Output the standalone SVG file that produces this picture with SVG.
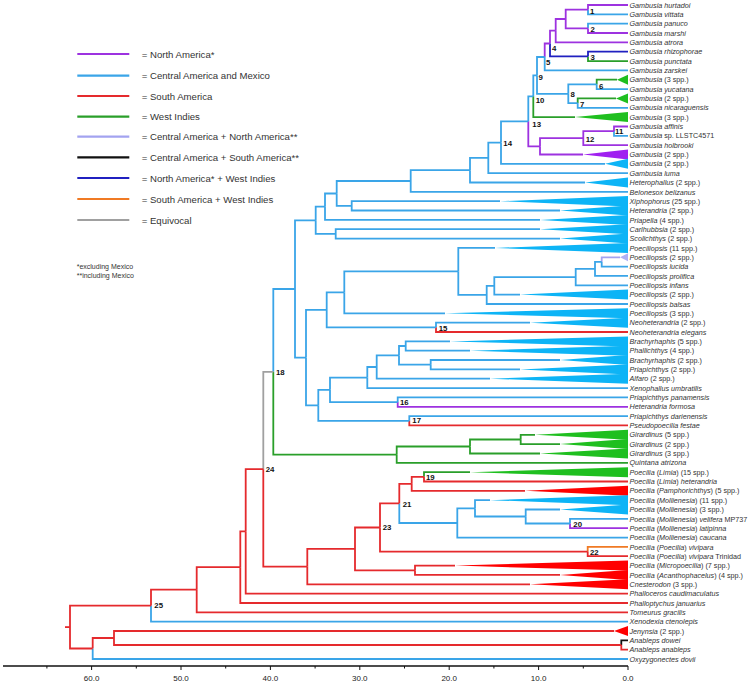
<svg xmlns="http://www.w3.org/2000/svg" width="750" height="684" viewBox="0 0 750 684">
<style>
.e{fill:none;stroke-width:1.8;stroke-linejoin:miter;stroke-linecap:butt}
.P{stroke:#9d32e0}.B{stroke:#3aa5e8}.R{stroke:#e52a2d}.G{stroke:#2a9f2a}.L{stroke:#a3a3f0}.K{stroke:#111}.N{stroke:#2020c0}.O{stroke:#f07a24}.Y{stroke:#a0a0a0}
.fP{fill:#a020f0}.fB{fill:#0db4f6}.fR{fill:#ff0000}.fG{fill:#1fbf1f}.fL{fill:#b0b0f5}
.t{font-family:"Liberation Sans",Arial,sans-serif;font-size:7.2px;fill:#333}
.i{font-style:italic}
.n{font-family:"Liberation Sans",Arial,sans-serif;font-size:7.8px;font-weight:bold;fill:#111}
.lg{font-family:"Liberation Sans",Arial,sans-serif;font-size:9.6px;fill:#333}
.fn{font-family:"Liberation Sans",Arial,sans-serif;font-size:7px;fill:#333}
.ax{font-family:"Liberation Sans",Arial,sans-serif;font-size:8px;fill:#222;text-anchor:middle}
.ll{stroke-width:2.2;fill:none}
</style>
<g id="connectors">
<path class="e P" d="M588 9.7V5H628"/>
<path class="e B" d="M588 9.7V14.3H628"/>
<path class="e B" d="M588 28.4V23.7H628"/>
<path class="e P" d="M588 28.4V33H628"/>
<path class="e P" d="M565.7 19V9.7H588"/>
<path class="e P" d="M565.7 19V28.4H588"/>
<path class="e P" d="M555.7 30.7V19H565.7"/>
<path class="e P" d="M555.7 30.7V42.4H628"/>
<path class="e N" d="M588 56.4V51.7H628"/>
<path class="e G" d="M588 56.4V61.1H628"/>
<path class="e P" d="M550 43.5V30.7H555.7"/>
<path class="e N" d="M550 43.5V56.4H588"/>
<path class="e P" d="M544.7 57V43.5H550"/>
<path class="e B" d="M544.7 57V70.4H628"/>
<path class="e G" d="M596.7 84.4V79.7H617"/>
<path class="e B" d="M596.7 84.4V89.1H628"/>
<path class="e G" d="M577.7 103.1V98.4H616"/>
<path class="e B" d="M577.7 103.1V107.8H628"/>
<path class="e B" d="M568.3 93.8V84.4H596.7"/>
<path class="e B" d="M568.3 93.8V103.1H577.7"/>
<path class="e B" d="M537 75.4V57H544.7"/>
<path class="e B" d="M537 75.4V93.8H568.3"/>
<path class="e B" d="M533.3 96.3V75.4H537"/>
<path class="e G" d="M533.3 96.3V117.1H575"/>
<path class="e P" d="M614 131.1V126.5H628"/>
<path class="e B" d="M614 131.1V135.8H628"/>
<path class="e P" d="M583.3 138.1V131.1H614"/>
<path class="e P" d="M583.3 138.1V145.1H628"/>
<path class="e P" d="M540 146.3V138.1H583.3"/>
<path class="e P" d="M540 146.3V154.5H583"/>
<path class="e B" d="M528.3 121.3V96.3H533.3"/>
<path class="e P" d="M528.3 121.3V146.3H540"/>
<path class="e B" d="M501 142.6V121.3H528.3"/>
<path class="e B" d="M501 142.6V163.8H605"/>
<path class="e B" d="M488.3 157.9V142.6H501"/>
<path class="e B" d="M488.3 157.9V173.2H628"/>
<path class="e B" d="M470 170.2V157.9H488.3"/>
<path class="e B" d="M470 170.2V182.5H585"/>
<path class="e B" d="M410.7 181V170.2H470"/>
<path class="e B" d="M410.7 181V191.9H628"/>
<path class="e B" d="M351.7 205.9V201.2H500"/>
<path class="e B" d="M351.7 205.9V210.5H560"/>
<path class="e B" d="M336.7 193.5V181H410.7"/>
<path class="e B" d="M336.7 193.5V205.9H351.7"/>
<path class="e B" d="M325 206.7V193.5H336.7"/>
<path class="e B" d="M325 206.7V219.9H540"/>
<path class="e B" d="M335.7 233.9V229.2H540"/>
<path class="e B" d="M335.7 233.9V238.6H560"/>
<path class="e B" d="M315.7 220.3V206.7H325"/>
<path class="e B" d="M315.7 220.3V233.9H335.7"/>
<path class="e L" d="M601.7 261.9V257.3H620"/>
<path class="e B" d="M601.7 261.9V266.6H628"/>
<path class="e B" d="M595 268.9V261.9H601.7"/>
<path class="e B" d="M595 268.9V275.9H628"/>
<path class="e B" d="M575.7 277.1V268.9H595"/>
<path class="e B" d="M575.7 277.1V285.3H628"/>
<path class="e B" d="M494.3 285.9V277.1H575.7"/>
<path class="e B" d="M494.3 285.9V294.6H520"/>
<path class="e B" d="M486.7 294.9V285.9H494.3"/>
<path class="e B" d="M486.7 294.9V304H628"/>
<path class="e B" d="M458.3 271.4V247.9H495"/>
<path class="e B" d="M458.3 271.4V294.9H486.7"/>
<path class="e B" d="M344.3 292.4V271.4H458.3"/>
<path class="e B" d="M344.3 292.4V313.3H445"/>
<path class="e B" d="M436 327.3V322.7H530"/>
<path class="e R" d="M436 327.3V332H628"/>
<path class="e B" d="M326.7 309.9V292.4H344.3"/>
<path class="e B" d="M326.7 309.9V327.3H436"/>
<path class="e B" d="M405.7 346V341.4H450"/>
<path class="e B" d="M405.7 346V350.7H470"/>
<path class="e B" d="M430.7 364.7V360H560"/>
<path class="e B" d="M430.7 364.7V369.4H520"/>
<path class="e B" d="M399 355.4V346H405.7"/>
<path class="e B" d="M399 355.4V364.7H430.7"/>
<path class="e B" d="M376.7 367V355.4H399"/>
<path class="e B" d="M376.7 367V378.7H490"/>
<path class="e B" d="M367.3 377.6V367H376.7"/>
<path class="e B" d="M367.3 377.6V388.1H628"/>
<path class="e B" d="M397.7 402.1V397.4H628"/>
<path class="e P" d="M397.7 402.1V406.8H628"/>
<path class="e B" d="M330 389.8V377.6H367.3"/>
<path class="e B" d="M330 389.8V402.1H397.7"/>
<path class="e B" d="M409.3 420.8V416.1H628"/>
<path class="e R" d="M409.3 420.8V425.4H628"/>
<path class="e B" d="M318.3 405.3V389.8H330"/>
<path class="e B" d="M318.3 405.3V420.8H409.3"/>
<path class="e B" d="M306 357.6V309.9H326.7"/>
<path class="e B" d="M306 357.6V405.3H318.3"/>
<path class="e B" d="M295 289V220.3H315.7"/>
<path class="e B" d="M295 289V357.6H306"/>
<path class="e G" d="M520.7 439.5V434.8H535"/>
<path class="e G" d="M520.7 439.5V444.1H560"/>
<path class="e G" d="M470 446.5V439.5H520.7"/>
<path class="e G" d="M470 446.5V453.5H540"/>
<path class="e G" d="M396.7 454.6V446.5H470"/>
<path class="e G" d="M396.7 454.6V462.8H628"/>
<path class="e B" d="M273.3 371.8V289H295"/>
<path class="e G" d="M273.3 371.8V454.6H396.7"/>
<path class="e G" d="M424 476.8V472.2H470"/>
<path class="e R" d="M424 476.8V481.5H628"/>
<path class="e R" d="M411.7 483.8V476.8H424"/>
<path class="e R" d="M411.7 483.8V490.8H525"/>
<path class="e B" d="M570 523.5V518.9H628"/>
<path class="e P" d="M570 523.5V528.2H628"/>
<path class="e B" d="M525.7 516.5V509.5H560"/>
<path class="e B" d="M525.7 516.5V523.5H570"/>
<path class="e B" d="M475 508.4V500.2H490"/>
<path class="e B" d="M475 508.4V516.5H525.7"/>
<path class="e B" d="M457.3 523V508.4H475"/>
<path class="e B" d="M457.3 523V537.6H628"/>
<path class="e R" d="M399.3 503.4V483.8H411.7"/>
<path class="e B" d="M399.3 503.4V523H457.3"/>
<path class="e O" d="M587.7 551.6V546.9H628"/>
<path class="e R" d="M587.7 551.6V556.2H628"/>
<path class="e R" d="M380 527.5V503.4H399.3"/>
<path class="e R" d="M380 527.5V551.6H587.7"/>
<path class="e R" d="M415 570.3V565.6H455"/>
<path class="e R" d="M415 570.3V574.9H560"/>
<path class="e R" d="M355 548.9V527.5H380"/>
<path class="e R" d="M355 548.9V570.3H415"/>
<path class="e R" d="M307.3 566.6V548.9H355"/>
<path class="e R" d="M307.3 566.6V584.3H530"/>
<path class="e Y" d="M263.3 469.2V371.8H273.3"/>
<path class="e R" d="M263.3 469.2V566.6H307.3"/>
<path class="e R" d="M245.7 531.4V469.2H263.3"/>
<path class="e R" d="M245.7 531.4V593.6H628"/>
<path class="e R" d="M240.3 567.2V531.4H245.7"/>
<path class="e R" d="M240.3 567.2V603H628"/>
<path class="e R" d="M196.7 589.7V567.2H240.3"/>
<path class="e R" d="M196.7 589.7V612.3H628"/>
<path class="e R" d="M151 605.7V589.7H196.7"/>
<path class="e B" d="M151 605.7V621.6H628"/>
<path class="e K" d="M621.3 645V640.3H628"/>
<path class="e R" d="M621.3 645V649.7H628"/>
<path class="e R" d="M114 638V631H614"/>
<path class="e R" d="M114 638V645H621.3"/>
<path class="e R" d="M92.7 648.5V638H114"/>
<path class="e B" d="M92.7 648.5V659H628"/>
<path class="e R" d="M70 627.1V605.7H151"/>
<path class="e R" d="M70 627.1V648.5H92.7"/>
<path class="e R" d="M65 627.1H70"/>
</g>
<g id="leaf-0"><text class="t i" x="629.5" y="7.6">Gambusia hurtadoi</text></g>
<g id="leaf-1"><text class="t i" x="629.5" y="16.9">Gambusia vittata</text></g>
<g id="leaf-2"><text class="t i" x="629.5" y="26.3">Gambusia panuco</text></g>
<g id="leaf-3"><text class="t i" x="629.5" y="35.6">Gambusia marshi</text></g>
<g id="leaf-4"><text class="t i" x="629.5" y="45">Gambusia atrora</text></g>
<g id="leaf-5"><text class="t i" x="629.5" y="54.3">Gambusia rhizophorae</text></g>
<g id="leaf-6"><text class="t i" x="629.5" y="63.7">Gambusia punctata</text></g>
<g id="leaf-7"><text class="t i" x="629.5" y="73">Gambusia zarskei</text></g>
<g id="leaf-8"><polygon class="fG" points="617,79.7 628,74.7 628,84.7"/><text class="t" x="629.5" y="82.3"><tspan class="i">Gambusia</tspan> (3 spp.)</text></g>
<g id="leaf-9"><text class="t i" x="629.5" y="91.7">Gambusia yucatana</text></g>
<g id="leaf-10"><polygon class="fG" points="616,98.4 628,93.4 628,103.4"/><text class="t" x="629.5" y="101"><tspan class="i">Gambusia</tspan> (2 spp.)</text></g>
<g id="leaf-11"><text class="t i" x="629.5" y="110.4">Gambusia nicaraguensis</text></g>
<g id="leaf-12"><polygon class="fG" points="575,117.1 628,112.1 628,122.1"/><text class="t" x="629.5" y="119.7"><tspan class="i">Gambusia</tspan> (3 spp.)</text></g>
<g id="leaf-13"><text class="t i" x="629.5" y="129.1">Gambusia affinis</text></g>
<g id="leaf-14"><text class="t" x="629.5" y="138.4"><tspan class="i">Gambusia</tspan> sp. LLSTC4571</text></g>
<g id="leaf-15"><text class="t i" x="629.5" y="147.8">Gambusia holbrooki</text></g>
<g id="leaf-16"><polygon class="fP" points="583,154.5 628,149.5 628,159.5"/><text class="t" x="629.5" y="157.1"><tspan class="i">Gambusia</tspan> (2 spp.)</text></g>
<g id="leaf-17"><polygon class="fB" points="605,163.8 628,158.8 628,168.8"/><text class="t" x="629.5" y="166.4"><tspan class="i">Gambusia</tspan> (2 spp.)</text></g>
<g id="leaf-18"><text class="t i" x="629.5" y="175.8">Gambusia luma</text></g>
<g id="leaf-19"><polygon class="fB" points="585,182.5 628,177.5 628,187.5"/><text class="t" x="629.5" y="185.1"><tspan class="i">Heterophallus</tspan> (2 spp.)</text></g>
<g id="leaf-20"><text class="t i" x="629.5" y="194.5">Belonesox belizanus</text></g>
<g id="leaf-21"><polygon class="fB" points="500,201.2 628,196 628,206.4"/><text class="t" x="629.5" y="203.8"><tspan class="i">Xiphophorus</tspan> (25 spp.)</text></g>
<g id="leaf-22"><polygon class="fB" points="560,210.5 628,205.5 628,215.5"/><text class="t" x="629.5" y="213.1"><tspan class="i">Heterandria</tspan> (2 spp.)</text></g>
<g id="leaf-23"><polygon class="fB" points="540,219.9 628,214.9 628,224.9"/><text class="t" x="629.5" y="222.5"><tspan class="i">Priapella</tspan> (4 spp.)</text></g>
<g id="leaf-24"><polygon class="fB" points="540,229.2 628,224.2 628,234.2"/><text class="t" x="629.5" y="231.8"><tspan class="i">Carlhubbsia</tspan> (2 spp.)</text></g>
<g id="leaf-25"><polygon class="fB" points="560,238.6 628,233.6 628,243.6"/><text class="t" x="629.5" y="241.2"><tspan class="i">Scolichthys</tspan> (2 spp.)</text></g>
<g id="leaf-26"><polygon class="fB" points="495,247.9 628,242.9 628,252.9"/><text class="t" x="629.5" y="250.5"><tspan class="i">Poeciliopsis</tspan> (11 spp.)</text></g>
<g id="leaf-27"><polygon class="fL" points="620,257.3 628,253.3 628,261.3"/><text class="t" x="629.5" y="259.9"><tspan class="i">Poeciliopsis</tspan> (2 spp.)</text></g>
<g id="leaf-28"><text class="t i" x="629.5" y="269.2">Poeciliopsis lucida</text></g>
<g id="leaf-29"><text class="t i" x="629.5" y="278.5">Poeciliopsis prolifica</text></g>
<g id="leaf-30"><text class="t i" x="629.5" y="287.9">Poeciliopsis infans</text></g>
<g id="leaf-31"><polygon class="fB" points="520,294.6 628,289.6 628,299.6"/><text class="t" x="629.5" y="297.2"><tspan class="i">Poeciliopsis</tspan> (2 spp.)</text></g>
<g id="leaf-32"><text class="t i" x="629.5" y="306.6">Poeciliopsis balsas</text></g>
<g id="leaf-33"><polygon class="fB" points="445,313.3 628,308.3 628,318.3"/><text class="t" x="629.5" y="315.9"><tspan class="i">Poeciliopsis</tspan> (3 spp.)</text></g>
<g id="leaf-34"><polygon class="fB" points="530,322.7 628,317.7 628,327.7"/><text class="t" x="629.5" y="325.3"><tspan class="i">Neoheterandria</tspan> (2 spp.)</text></g>
<g id="leaf-35"><text class="t i" x="629.5" y="334.6">Neoheterandria elegans</text></g>
<g id="leaf-36"><polygon class="fB" points="450,341.4 628,336.4 628,346.4"/><text class="t" x="629.5" y="344"><tspan class="i">Brachyrhaphis</tspan> (5 spp.)</text></g>
<g id="leaf-37"><polygon class="fB" points="470,350.7 628,345.7 628,355.7"/><text class="t" x="629.5" y="353.3"><tspan class="i">Phallichthys</tspan> (4 spp.)</text></g>
<g id="leaf-38"><polygon class="fB" points="560,360 628,355 628,365"/><text class="t" x="629.5" y="362.6"><tspan class="i">Brachyrhaphis</tspan> (2 spp.)</text></g>
<g id="leaf-39"><polygon class="fB" points="520,369.4 628,364.4 628,374.4"/><text class="t" x="629.5" y="372"><tspan class="i">Priapichthys</tspan> (2 spp.)</text></g>
<g id="leaf-40"><polygon class="fB" points="490,378.7 628,373.7 628,383.7"/><text class="t" x="629.5" y="381.3"><tspan class="i">Alfaro</tspan> (2 spp.)</text></g>
<g id="leaf-41"><text class="t i" x="629.5" y="390.7">Xenophallus umbratilis</text></g>
<g id="leaf-42"><text class="t i" x="629.5" y="400">Priapichthys panamensis</text></g>
<g id="leaf-43"><text class="t i" x="629.5" y="409.4">Heterandria formosa</text></g>
<g id="leaf-44"><text class="t i" x="629.5" y="418.7">Priapichthys darienensis</text></g>
<g id="leaf-45"><text class="t i" x="629.5" y="428">Pseudopoecilia festae</text></g>
<g id="leaf-46"><polygon class="fG" points="535,434.8 628,429.8 628,439.8"/><text class="t" x="629.5" y="437.4"><tspan class="i">Girardinus</tspan> (5 spp.)</text></g>
<g id="leaf-47"><polygon class="fG" points="560,444.1 628,439.1 628,449.1"/><text class="t" x="629.5" y="446.7"><tspan class="i">Girardinus</tspan> (2 spp.)</text></g>
<g id="leaf-48"><polygon class="fG" points="540,453.5 628,448.5 628,458.5"/><text class="t" x="629.5" y="456.1"><tspan class="i">Girardinus</tspan> (3 spp.)</text></g>
<g id="leaf-49"><text class="t i" x="629.5" y="465.4">Quintana atrizona</text></g>
<g id="leaf-50"><polygon class="fG" points="470,472.2 628,467.2 628,477.2"/><text class="t" x="629.5" y="474.8"><tspan class="i">Poecilia</tspan> (<tspan class="i">Limia</tspan>) (15 spp.)</text></g>
<g id="leaf-51"><text class="t" x="629.5" y="484.1"><tspan class="i">Poecilia</tspan> (<tspan class="i">Limia</tspan>) <tspan class="i">heterandria</tspan></text></g>
<g id="leaf-52"><polygon class="fR" points="525,490.8 628,485.8 628,495.8"/><text class="t" x="629.5" y="493.4"><tspan class="i">Poecilia</tspan> (<tspan class="i">Pamphorichthys</tspan>) (5 spp.)</text></g>
<g id="leaf-53"><polygon class="fB" points="490,500.2 628,495.2 628,505.2"/><text class="t" x="629.5" y="502.8"><tspan class="i">Poecilia</tspan> (<tspan class="i">Mollienesia</tspan>) (11 spp.)</text></g>
<g id="leaf-54"><polygon class="fB" points="560,509.5 628,504.5 628,514.5"/><text class="t" x="629.5" y="512.1"><tspan class="i">Poecilia</tspan> (<tspan class="i">Mollienesia</tspan>) (3 spp.)</text></g>
<g id="leaf-55"><text class="t" x="629.5" y="521.5"><tspan class="i">Poecilia</tspan> (<tspan class="i">Mollienesia</tspan>) <tspan class="i">velifera</tspan> MP737</text></g>
<g id="leaf-56"><text class="t" x="629.5" y="530.8"><tspan class="i">Poecilia</tspan> (<tspan class="i">Mollienesia</tspan>) <tspan class="i">latipinna</tspan></text></g>
<g id="leaf-57"><text class="t" x="629.5" y="540.2"><tspan class="i">Poecilia</tspan> (<tspan class="i">Mollienesia</tspan>) <tspan class="i">caucana</tspan></text></g>
<g id="leaf-58"><text class="t" x="629.5" y="549.5"><tspan class="i">Poecilia</tspan> (<tspan class="i">Poecilia</tspan>) <tspan class="i">vivipara</tspan></text></g>
<g id="leaf-59"><text class="t" x="629.5" y="558.8"><tspan class="i">Poecilia</tspan> (<tspan class="i">Poecilia</tspan>) <tspan class="i">vivipara</tspan> Trinidad</text></g>
<g id="leaf-60"><polygon class="fR" points="455,565.6 628,560.6 628,570.6"/><text class="t" x="629.5" y="568.2"><tspan class="i">Poecilia</tspan> (<tspan class="i">Micropoecilia</tspan>) (7 spp.)</text></g>
<g id="leaf-61"><polygon class="fR" points="560,574.9 628,569.9 628,579.9"/><text class="t" x="629.5" y="577.5"><tspan class="i">Poecilia</tspan> (<tspan class="i">Acanthophacelus</tspan>) (4 spp.)</text></g>
<g id="leaf-62"><polygon class="fR" points="530,584.3 628,579.3 628,589.3"/><text class="t" x="629.5" y="586.9"><tspan class="i">Cnesterodon</tspan> (3 spp.)</text></g>
<g id="leaf-63"><text class="t i" x="629.5" y="596.2">Phalloceros caudimaculatus</text></g>
<g id="leaf-64"><text class="t i" x="629.5" y="605.6">Phalloptychus januarius</text></g>
<g id="leaf-65"><text class="t i" x="629.5" y="614.9">Tomeurus gracilis</text></g>
<g id="leaf-66"><text class="t i" x="629.5" y="624.2">Xenodexia ctenolepis</text></g>
<g id="leaf-67"><polygon class="fR" points="614,631 628,626 628,636"/><text class="t" x="629.5" y="633.6"><tspan class="i">Jenynsia</tspan> (2 spp.)</text></g>
<g id="leaf-68"><text class="t i" x="629.5" y="642.9">Anableps dowei</text></g>
<g id="leaf-69"><text class="t i" x="629.5" y="652.3">Anableps anableps</text></g>
<g id="leaf-70"><text class="t i" x="629.5" y="661.6">Oxyzygonectes dovii</text></g>
<g id="node-labels">
<text class="n" x="590" y="13.8">1</text>
<text class="n" x="590.5" y="32.2">2</text>
<text class="n" x="590.5" y="60.1">3</text>
<text class="n" x="552" y="50.5">4</text>
<text class="n" x="546" y="64.5">5</text>
<text class="n" x="599" y="88.5">6</text>
<text class="n" x="580" y="106.8">7</text>
<text class="n" x="570.5" y="96.8">8</text>
<text class="n" x="538.5" y="79.8">9</text>
<text class="n" x="535.7" y="102.8">10</text>
<text class="n" x="615" y="134.4">11</text>
<text class="n" x="585.7" y="142">12</text>
<text class="n" x="532.3" y="126.8">13</text>
<text class="n" x="503.3" y="145.5">14</text>
<text class="n" x="438.7" y="331">15</text>
<text class="n" x="400" y="405">16</text>
<text class="n" x="412.3" y="423">17</text>
<text class="n" x="276" y="374.5">18</text>
<text class="n" x="426" y="480">19</text>
<text class="n" x="573.3" y="526.7">20</text>
<text class="n" x="402.7" y="506.8">21</text>
<text class="n" x="590" y="554.5">22</text>
<text class="n" x="382.7" y="530">23</text>
<text class="n" x="265.7" y="472">24</text>
<text class="n" x="154.3" y="608">25</text>
</g>
<g id="legend">
<path class="ll P" d="M77.3 54H129.3"/>
<path class="ll B" d="M77.3 75.7H129.3"/>
<path class="ll R" d="M77.3 96H129.3"/>
<path class="ll G" d="M77.3 116.7H129.3"/>
<path class="ll L" d="M77.3 136.7H129.3"/>
<path class="ll K" d="M77.3 157.3H129.3"/>
<path class="ll N" d="M77.3 178H129.3"/>
<path class="ll O" d="M77.3 199H129.3"/>
<path class="ll Y" d="M77.3 220H129.3"/>
<text class="lg" x="141.7" y="57.5">= North America*</text>
<text class="lg" x="141.7" y="79.2">= Central America and Mexico</text>
<text class="lg" x="141.7" y="99.5">= South America</text>
<text class="lg" x="141.7" y="120.2">= West Indies</text>
<text class="lg" x="141.7" y="140.2">= Central America + North America**</text>
<text class="lg" x="141.7" y="160.8">= Central America + South America**</text>
<text class="lg" x="141.7" y="181.5">= North America* + West Indies</text>
<text class="lg" x="141.7" y="202.5">= South America + West Indies</text>
<text class="lg" x="141.7" y="223.5">= Equivocal</text>
<text class="fn" x="76.7" y="269">*excluding Mexico</text>
<text class="fn" x="76.7" y="277.6">**including Mexico</text>
</g>
<g id="axis">
<path d="M3 666H628" stroke="#111" stroke-width="1.5" fill="none"/>
<path d="M91.6 666v4M181 666v4M270.4 666v4M359.8 666v4M449.2 666v4M538.6 666v4M628 666v4M46.9 666v2.5M136.3 666v2.5M225.7 666v2.5M315.1 666v2.5M404.5 666v2.5M493.9 666v2.5M583.3 666v2.5" stroke="#111" stroke-width="1" fill="none"/>
<text class="ax" x="91.6" y="681">60.0</text>
<text class="ax" x="181" y="681">50.0</text>
<text class="ax" x="270.4" y="681">40.0</text>
<text class="ax" x="359.8" y="681">30.0</text>
<text class="ax" x="449.2" y="681">20.0</text>
<text class="ax" x="538.6" y="681">10.0</text>
<text class="ax" x="628" y="681">0.0</text>
</g>
</svg>
